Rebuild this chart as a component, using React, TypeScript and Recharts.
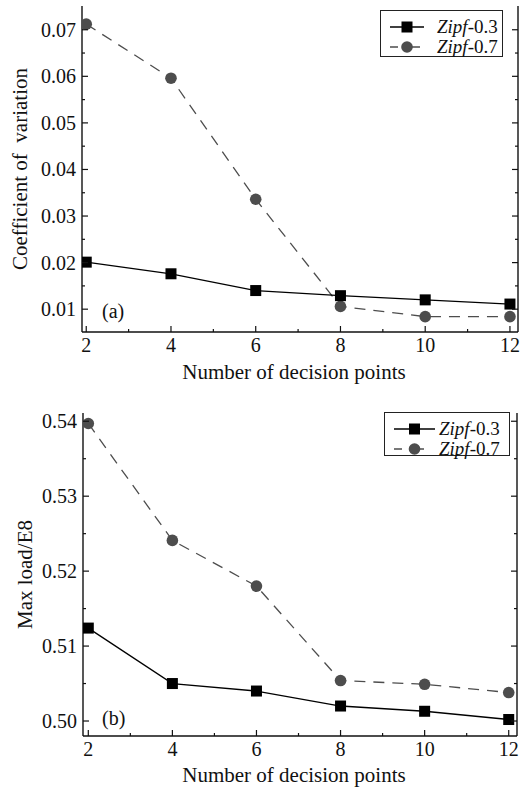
import * as React from "react";
import { LineChart, Line, XAxis, YAxis, Legend } from "recharts";

const decisionPoints = [2, 4, 6, 8, 10, 12];
const cvZipf03 = [0.0201, 0.0176, 0.014, 0.0129, 0.012, 0.0111];
const cvZipf07 = [0.0712, 0.0596, 0.0336, 0.0106, 0.0084, 0.0084];
const loadZipf03 = [0.5124, 0.505, 0.504, 0.502, 0.5013, 0.5002];
const loadZipf07 = [0.5397, 0.5241, 0.518, 0.5054, 0.5049, 0.5038];

const seriesNames = ["Zipf-0.3", "Zipf-0.7"];

const xTicks = [2, 3, 4, 5, 6, 7, 8, 9, 10, 11, 12];
const cvTicks = [0.01, 0.015, 0.02, 0.025, 0.03, 0.035, 0.04, 0.045, 0.05, 0.055, 0.06, 0.065, 0.07];
const loadTicks = [0.5, 0.505, 0.51, 0.515, 0.52, 0.525, 0.53, 0.535, 0.54];

const FONT = "'Liberation Serif', 'DejaVu Serif', serif";
const INK = "#111";
const GREY = "#4d4d4d";

const isMajor = (v: number, step: number) => Math.abs(v / step - Math.round(v / step)) < 1e-6;

const Square = (props: any) => {
  const { cx, cy } = props;
  if (cx == null || cy == null) return null;
  return <rect x={cx - 5.5} y={cy - 5.5} width={11} height={11} fill="#000" />;
};

// inward ticks, labels only on majors
const BottomTick = ({ x, y, payload }: any) => {
  const major = isMajor(payload.value, 2);
  return (
    <g>
      <line x1={x} x2={x} y1={y} y2={y - (major ? 6 : 3)} stroke={INK} strokeWidth={1.2} />
      {major && (
        <text x={x} y={y + 20} textAnchor="middle" fontSize={20} fontFamily={FONT} fill={INK}>
          {payload.value}
        </text>
      )}
    </g>
  );
};

const TopTick = ({ x, y, payload }: any) => {
  const major = isMajor(payload.value, 2);
  return <line x1={x} x2={x} y1={y} y2={y + (major ? 6 : 3)} stroke={INK} strokeWidth={1.2} />;
};

const makeLeftTick = (step: number, digits: number) => ({ x, y, payload }: any) => {
  const major = isMajor(payload.value, step);
  return (
    <g>
      <line x1={x} x2={x + (major ? 6 : 3)} y1={y} y2={y} stroke={INK} strokeWidth={1.2} />
      {major && (
        <text x={x - 6} y={y + 7} textAnchor="end" fontSize={20} fontFamily={FONT} fill={INK}>
          {payload.value.toFixed(digits)}
        </text>
      )}
    </g>
  );
};

const makeRightTick = (step: number) => ({ x, y, payload }: any) => {
  const major = isMajor(payload.value, step);
  return <line x1={x} x2={x - (major ? 6 : 3)} y1={y} y2={y} stroke={INK} strokeWidth={1.2} />;
};

const LegendBox = ({ sampleWidth, gap }: { sampleWidth: number; gap: number }) => (
  <div
    style={{
      border: "1px solid #222",
      background: "#fff",
      fontFamily: FONT,
      fontSize: 19,
      color: INK,
      padding: "6px 0 0 9px",
      boxSizing: "border-box",
      height: "100%",
    }}
  >
    {seriesNames.map((name, i) => {
      const [head, tail] = name.split("-");
      const c = i === 0 ? "#000" : GREY;
      return (
        <div key={name} style={{ display: "flex", alignItems: "center", height: 20, lineHeight: "20px" }}>
          <svg width={sampleWidth} height={14} style={{ marginRight: gap, flexShrink: 0 }}>
            <line
              x1={0}
              x2={sampleWidth}
              y1={7}
              y2={7}
              stroke={c}
              strokeWidth={1.3}
              strokeDasharray={i === 0 ? undefined : "8 14"}
            />
            {i === 0 ? (
              <rect x={sampleWidth / 2 - 5.5} y={1.5} width={11} height={11} fill="#000" />
            ) : (
              <circle cx={sampleWidth / 2} cy={7} r={5.8} fill={GREY} />
            )}
          </svg>
          <span style={{ whiteSpace: "nowrap" }}>
            <i>{head}</i>-{tail}
          </span>
        </div>
      );
    })}
  </div>
);

type PanelProps = {
  width: number;
  height: number;
  margin: { top: number; right: number; bottom: number; left: number };
  yAxisWidth: number;
  rightWidth: number;
  xAxisHeight: number;
  xDomain: [number, number];
  yDomain: [number, number];
  yTicks: number[];
  yStep: number;
  yDigits: number;
  a: number[];
  b: number[];
  yLabel: string;
  yLabelX: number;
  xLabelY: number;
  legendStyle: React.CSSProperties;
  sampleWidth: number;
  gap: number;
};

function Panel(p: PanelProps) {
  const data = decisionPoints.map((x, i) => ({ x, a: p.a[i], b: p.b[i] }));
  const LeftTick = makeLeftTick(p.yStep, p.yDigits);
  const RightTick = makeRightTick(p.yStep);
  return (
    <LineChart width={p.width} height={p.height} data={data} margin={p.margin}>
      <XAxis
        xAxisId="b"
        dataKey="x"
        type="number"
        domain={p.xDomain}
        allowDataOverflow
        ticks={xTicks}
        interval={0}
        tickSize={0}
        tickMargin={0}
        tickLine={false}
        height={p.xAxisHeight}
        axisLine={{ stroke: INK, strokeWidth: 1.4 }}
        tick={<BottomTick />}
        label={(props: any) => {
          const vb = props.viewBox;
          return (
            <text
              x={vb.x + vb.width / 2 - 6}
              y={p.xLabelY}
              textAnchor="middle"
              fontSize={21}
              fontFamily={FONT}
              fill={INK}
            >
              Number of decision points
            </text>
          );
        }}
      />
      <XAxis
        xAxisId="t"
        orientation="top"
        dataKey="x"
        type="number"
        domain={p.xDomain}
        allowDataOverflow
        ticks={xTicks}
        interval={0}
        tickSize={0}
        tickMargin={0}
        tickLine={false}
        height={0}
        axisLine={{ stroke: INK, strokeWidth: 1.4 }}
        tick={<TopTick />}
      />
      <YAxis
        yAxisId="l"
        type="number"
        domain={p.yDomain}
        allowDataOverflow
        ticks={p.yTicks}
        interval={0}
        tickSize={0}
        tickMargin={0}
        tickLine={false}
        width={p.yAxisWidth}
        axisLine={{ stroke: INK, strokeWidth: 1.4 }}
        tick={<LeftTick />}
        label={(props: any) => {
          const vb = props.viewBox;
          const cy = vb.y + vb.height / 2;
          return (
            <text
              x={p.yLabelX}
              y={cy}
              transform={`rotate(-90 ${p.yLabelX} ${cy})`}
              textAnchor="middle"
              dominantBaseline="central"
              fontSize={21}
              fontFamily={FONT}
              fill={INK}
              style={{ whiteSpace: "pre" }}
            >
              {p.yLabel}
            </text>
          );
        }}
      />
      <YAxis
        yAxisId="r"
        orientation="right"
        type="number"
        domain={p.yDomain}
        allowDataOverflow
        ticks={p.yTicks}
        interval={0}
        tickSize={0}
        tickMargin={0}
        tickLine={false}
        width={p.rightWidth}
        axisLine={{ stroke: INK, strokeWidth: 1.4 }}
        tick={<RightTick />}
      />
      <Legend
        layout="vertical"
        align="center"
        verticalAlign="middle"
        wrapperStyle={p.legendStyle}
        content={() => <LegendBox sampleWidth={p.sampleWidth} gap={p.gap} />}
      />
      <Line
        xAxisId="b"
        yAxisId="l"
        dataKey="b"
        name={seriesNames[1]}
        stroke={GREY}
        strokeWidth={1.3}
        strokeDasharray="11 8"
        dot={{ r: 5.8, fill: GREY, stroke: GREY, strokeWidth: 0 }}
        isAnimationActive={false}
      />
      <Line
        xAxisId="b"
        yAxisId="l"
        dataKey="a"
        name={seriesNames[0]}
        stroke="#000"
        strokeWidth={1.3}
        dot={<Square />}
        isAnimationActive={false}
      />
    </LineChart>
  );
}

const tagStyle: React.CSSProperties = {
  position: "absolute",
  fontFamily: FONT,
  fontSize: 20,
  color: INK,
  lineHeight: 1,
};

export default function App() {
  return (
    <div style={{ position: "absolute", left: 0, top: 0, width: 521, height: 788, background: "#fff" }}>
      <div style={{ position: "absolute", left: 0, top: 0 }}>
        <Panel
          width={521}
          height={385}
          margin={{ top: 6, right: 0, bottom: 0, left: 0 }}
          yAxisWidth={82}
          rightWidth={3}
          xAxisHeight={53}
          xDomain={[1.9, 12.19]}
          yDomain={[0.0051, 0.0751]}
          yTicks={cvTicks}
          yStep={0.01}
          yDigits={2}
          a={cvZipf03}
          b={cvZipf07}
          yLabel="Coefficient of  variation"
          yLabelX={20}
          xLabelY={379}
          legendStyle={{ left: 380, top: 10, width: 123, height: 47 }}
          sampleWidth={34}
          gap={13}
        />
        <div style={{ ...tagStyle, left: 102, top: 301 }}>(a)</div>
      </div>
      <div style={{ position: "absolute", left: 0, top: 385 }}>
        <Panel
          width={521}
          height={403}
          margin={{ top: 28, right: 0, bottom: 0, left: 0 }}
          yAxisWidth={83}
          rightWidth={4}
          xAxisHeight={52}
          xDomain={[1.874, 12.197]}
          yDomain={[0.498, 0.5411]}
          yTicks={loadTicks}
          yStep={0.01}
          yDigits={2}
          a={loadZipf03}
          b={loadZipf07}
          yLabel="Max load/E8"
          yLabelX={25}
          xLabelY={397}
          legendStyle={{ left: 384, top: 27, width: 126, height: 44 }}
          sampleWidth={41}
          gap={4}
        />
        <div style={{ ...tagStyle, left: 102, top: 323 }}>(b)</div>
      </div>
    </div>
  );
}
